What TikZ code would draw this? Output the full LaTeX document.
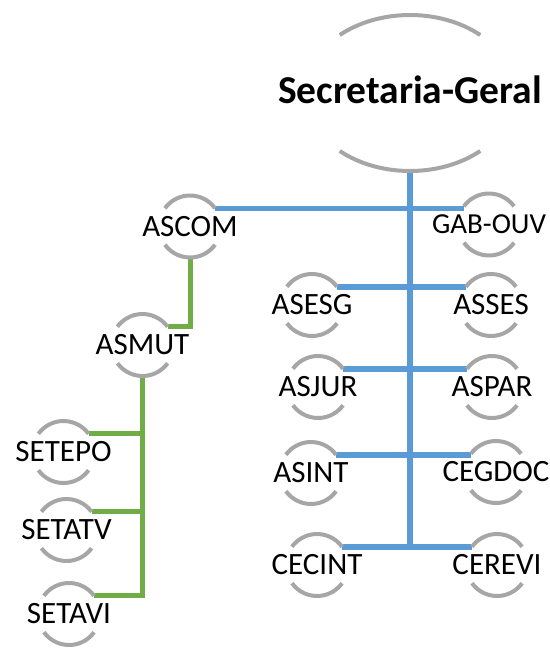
\documentclass[tikz,border=0pt]{standalone}
\usepackage{fontspec}
\setmainfont{Carlito}
\usetikzlibrary{shapes.geometric}
\definecolor{orgblue}{HTML}{5B9BD5}
\definecolor{orggreen}{HTML}{70AD47}
\definecolor{arcgray}{HTML}{A6A6A6}

\begin{document}
\begin{tikzpicture}[x=1pt,y=1pt,
  unit/.style={circle,minimum size=62pt,inner sep=0pt,outer sep=0pt,
    label={[font=\fontsize{31}{36}\selectfont]center:#1}},
  topunit/.style={ellipse,minimum width=210pt,minimum height=156pt,inner sep=0pt,outer sep=0pt,
    label={[font=\bfseries\fontsize{39.5}{44}\selectfont,yshift=3pt]center:#1}},
  arcline/.style={draw=arcgray,line width=4pt},
  blueline/.style={draw=orgblue,line width=5.5pt},
  greenline/.style={draw=orggreen,line width=5pt}]
\useasboundingbox (0,0) rectangle (549,-648);

\path (410,-93) node[topunit=Secretaria-Geral] (sg) {};

\path (190,-226.5) node[unit=ASCOM] (ascom) {};
\path (489,-224.5) node[unit={\fontsize{29}{36}\selectfont GAB-OUV}] (gabouv) {};
\path (312,-305) node[unit=ASESG] (asesg) {};
\path (491,-305) node[unit=ASSES] (asses) {};
\path (318,-387) node[unit=ASJUR] (asjur) {};
\path (492,-387) node[unit=ASPAR] (aspar) {};
\path (311,-473) node[unit=ASINT] (asint) {};
\path (496,-472) node[unit=CEGDOC] (cegdoc) {};
\path (317,-565) node[unit=CECINT] (cecint) {};
\path (497,-565) node[unit=CEREVI] (cerevi) {};

\path (142.5,-345) node[unit=ASMUT] (asmut) {};
\path (63.5,-452) node[unit=SETEPO] (setepo) {};
\path (66.5,-530) node[unit=SETATV] (setatv) {};
\path (69,-614) node[unit=SETAVI] (setavi) {};

% blue tree
\draw[blueline] (sg.south) -- (sg.south |- cecint.36);
\draw[blueline] (ascom.36) -- (ascom.36 -| gabouv.144);
\draw[blueline] (asesg.36) -- (asesg.36 -| asses.144);
\draw[blueline] (asjur.36) -- (asjur.36 -| aspar.144);
\draw[blueline] (asint.36) -- (asint.36 -| cegdoc.144);
\draw[blueline] (cecint.36) -- (cecint.36 -| cerevi.144);

% green tree
\draw[greenline] (ascom.south) |- (asmut.36);
\draw[greenline] (asmut.south) |- (setavi.36);
\draw[greenline] (setepo.36) -- (setepo.36 -| asmut.south);
\draw[greenline] (setatv.36) -- (setatv.36 -| asmut.south);

% arcs
\draw[arcline] ([shift={(48:105pt and 78pt)}]sg.center) arc[start angle=48,end angle=132,x radius=105pt,y radius=78pt];
\draw[arcline] ([shift={(228:105pt and 78pt)}]sg.center) arc[start angle=228,end angle=312,x radius=105pt,y radius=78pt];
\foreach \n in {ascom,gabouv,asesg,asses,asjur,aspar,asint,cegdoc,cecint,cerevi,asmut,setepo,setatv,setavi} {
  \draw[arcline] (\n.36) arc[start angle=36,end angle=144,radius=31pt];
  \draw[arcline] (\n.216) arc[start angle=216,end angle=324,radius=31pt];
}
\end{tikzpicture}
\end{document}
